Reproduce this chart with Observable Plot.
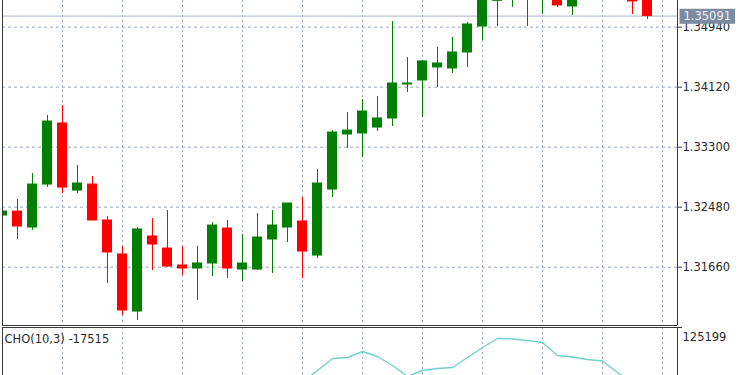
<!DOCTYPE html>
<html><head><meta charset="utf-8">
<script src="https://cdn.jsdelivr.net/npm/d3@7"></script>
<script src="https://cdn.jsdelivr.net/npm/@observablehq/plot@0.6"></script>
<style>
body{margin:0;background:#fff;}
#chart{position:relative;width:750px;height:375px;overflow:hidden;background:#fff;}
#chart svg{display:block;}
</style></head><body><div id="chart"></div>
<script>
// ---- data ----
const opens  = [1.32366,1.32420,1.32202,1.32789,1.33623,1.32707,1.32789,1.32298,1.31833,1.31054,1.32079,1.31915,1.31683,1.31642,1.31710,1.32188,1.31628,1.31628,1.32038,1.32202,1.32284,1.31819,1.32721,1.33473,1.33487,1.33568,1.33692,1.34156,1.34211,1.34389,1.34375,1.34594,1.34949,1.35300,1.35400,1.35520,1.35340,1.35420,1.35222,1.35420,1.35540,1.35420,1.35360,1.35330];
const highs  = [1.32434,1.32584,1.32939,1.33733,1.33869,1.33049,1.32899,1.32352,1.31943,1.32202,1.32325,1.32434,1.31943,1.31943,1.32270,1.32298,1.32106,1.32393,1.32434,1.32530,1.32612,1.32994,1.33527,1.33774,1.33951,1.33992,1.35017,1.34525,1.34484,1.34662,1.34799,1.35004,1.35480,1.35560,1.35600,1.35580,1.35560,1.35480,1.35500,1.35620,1.35600,1.35480,1.35400,1.35340];
const lows   = [1.32352,1.32038,1.32161,1.32748,1.32666,1.32666,1.32298,1.31437,1.31000,1.30931,1.31614,1.31655,1.31546,1.31204,1.31532,1.31505,1.31464,1.31614,1.31573,1.31997,1.31505,1.31778,1.32612,1.33282,1.33159,1.33514,1.33582,1.34047,1.33705,1.34115,1.34307,1.34389,1.34758,1.34949,1.35209,1.34949,1.35113,1.35209,1.35099,1.35360,1.35340,1.35320,1.35113,1.35045];
const closes = [1.32420,1.32216,1.32789,1.33650,1.32748,1.32803,1.32298,1.31861,1.31068,1.32175,1.31970,1.31669,1.31642,1.31710,1.32229,1.31642,1.31710,1.32065,1.32229,1.32530,1.31874,1.32803,1.33500,1.33527,1.33787,1.33692,1.34170,1.34170,1.34471,1.34443,1.34594,1.34976,1.35420,1.35480,1.35520,1.35350,1.35500,1.35236,1.35440,1.35560,1.35400,1.35360,1.35291,1.35091];
const priceTicks = [1.31660, 1.32480, 1.33300, 1.34120, 1.34940];
const bidPrice = 1.35091;
const priceDomain = [1.30863, 1.35304];
const barDomain = [0, 45];
const gridStep = 4;
const choStart = 20;
const choValues = [6400,30600,57000,59200,72400,61400,41600,17400,30600,35000,37200,59200,81200,101000,99900,96600,92200,63600,60300,54800,51500,26200,2000,-17515];
const choDomain = [19599, 125199];
const choTitle = "CHO(10,3) -17515";

// ---- styling ----
const GREEN = "#008000", RED = "#ff0000";
const GRID = "#9aa7ba", BORDER = "#3a3a3a", TEXT = "#2a2a2a";
const FONT = "'DejaVu Sans', sans-serif";

const candles = opens.map((o, i) => ({i, open: o, high: highs[i], low: lows[i], close: closes[i], col: closes[i] >= o ? GREEN : RED}));
const gridX = d3.range(barDomain[0], barDomain[1], gridStep);
const cho = choValues.map((v, j) => ({i: choStart + j, v}));

const root = document.getElementById("chart");

const main = Plot.plot({
  width: 750, height: 326,
  marginLeft: 2, marginRight: 73, marginTop: 0, marginBottom: 1,
  style: {fontFamily: FONT, fontSize: "11.5px", color: TEXT, background: "#fff", overflow: "hidden"},
  x: {domain: barDomain, axis: null},
  y: {domain: priceDomain, axis: null},
  marks: [
    Plot.ruleY(priceTicks, {stroke: GRID, strokeDasharray: "3,3"}),
    Plot.ruleX(gridX, {stroke: GRID, strokeDasharray: "2,3"}),
    Plot.ruleY([bidPrice], {stroke: "#a9b5c5"}),
    Plot.ruleX(candles, {x: "i", y1: "low", y2: "high", stroke: "col", clip: true}),
    Plot.rect(candles, {x1: d => d.i - 0.5, x2: d => d.i + 0.5, y1: "open", y2: "close", insetLeft: 3, insetRight: 3, fill: "col", stroke: "col", clip: true}),
    Plot.ruleX(barDomain, {stroke: BORDER}),
    Plot.ruleY([priceDomain[0]], {stroke: BORDER}),
    Plot.axisY(priceTicks, {anchor: "right", tickFormat: d => d.toFixed(5), tickSize: 4, tickPadding: 1, stroke: BORDER, fill: TEXT, label: null}),
    Plot.text([bidPrice], {y: d => d, frameAnchor: "right", dx: 6, textAnchor: "start", text: d => d.toFixed(5), fill: "#eef2f6"})
  ]
});
root.appendChild(main);

// slate box behind the bid label
{
  const label = bidPrice.toFixed(5);
  const t = Array.from(main.querySelectorAll("text")).find(e => e.textContent === label);
  if (t) {
    const b = t.getBBox();
    const r = document.createElementNS("http://www.w3.org/2000/svg", "rect");
    r.setAttribute("x", b.x - 4);
    r.setAttribute("y", b.y);
    r.setAttribute("width", b.width + 8);
    r.setAttribute("height", b.height + 1);
    r.setAttribute("fill", "#7b8ba0");
    const tr = t.getAttribute("transform");
    if (tr) r.setAttribute("transform", tr);
    t.parentNode.insertBefore(r, t);
  }
}

const lower = Plot.plot({
  width: 750, height: 49,
  marginLeft: 2, marginRight: 73, marginTop: 1, marginBottom: 0,
  style: {fontFamily: FONT, fontSize: "11.5px", color: TEXT, background: "#fff", overflow: "hidden"},
  x: {domain: barDomain, axis: null},
  y: {domain: choDomain, axis: null},
  marks: [
    Plot.ruleX(gridX, {stroke: GRID, strokeDasharray: "2,3"}),
    Plot.line(cho, {x: "i", y: "v", stroke: "#6fd2cc", strokeWidth: 1.4, clip: true}),
    Plot.ruleX(barDomain, {stroke: BORDER}),
    Plot.ruleY([choDomain[1]], {stroke: BORDER}),
    Plot.axisY([choDomain[1]], {anchor: "right", tickSize: 4, stroke: BORDER, fill: "none", label: null}),
    Plot.axisY([choDomain[1]], {anchor: "right", tickSize: 4, tickPadding: 1, stroke: "none", fill: TEXT, dy: 10, tickFormat: d => String(d), label: null}),
    Plot.text([choTitle], {frameAnchor: "top-left", dx: 2, dy: 12, textAnchor: "start", lineAnchor: "middle", fill: TEXT})
  ]
});
root.appendChild(lower);
</script>
</body></html>
